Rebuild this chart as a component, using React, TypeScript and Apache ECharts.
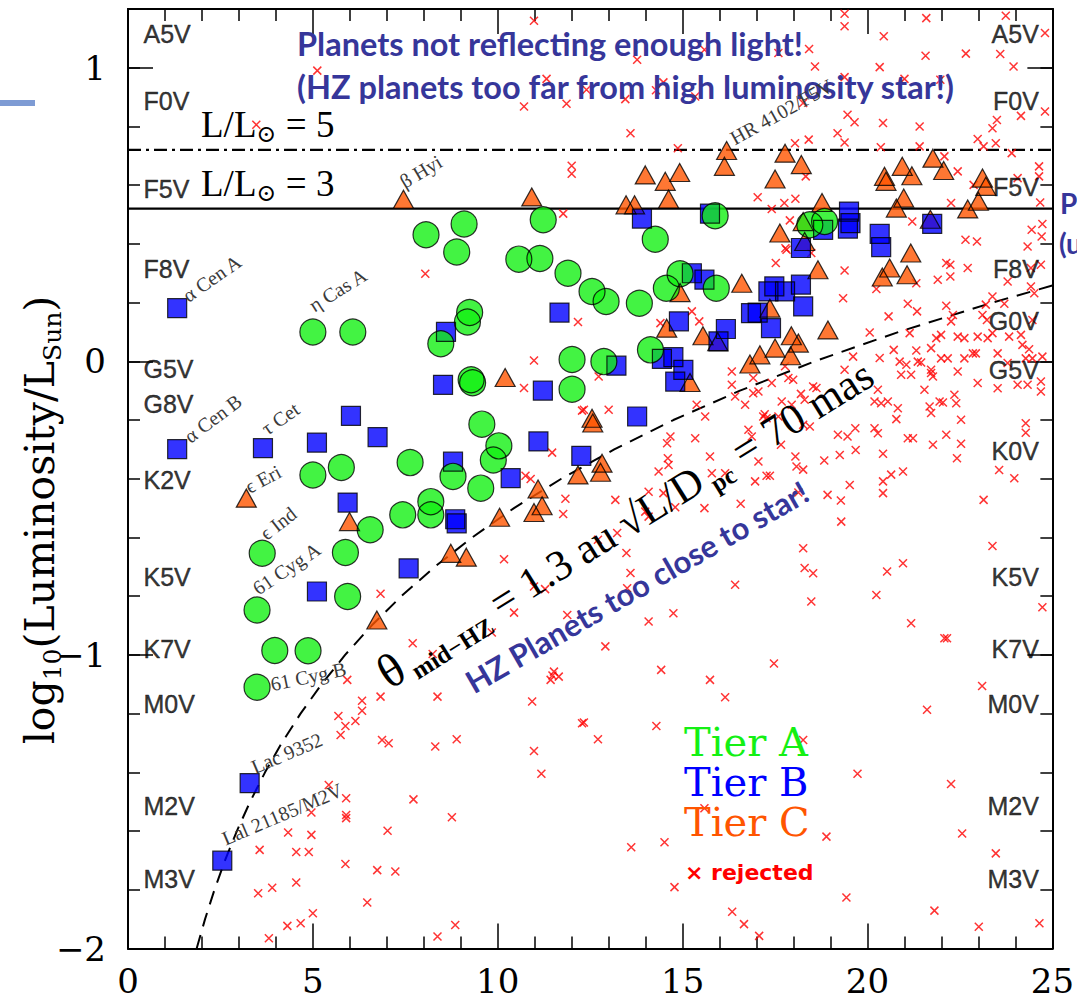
import React, { useEffect, useRef } from 'react';
import * as echarts from 'echarts';

// ---------- DATA ----------
const X_MIN = 0, X_MAX = 25, Y_MIN = -2, Y_MAX = 1.2;
const L3_LOG = 0.52; // line labelled L/Lsun = 3
const L5_LOG = 0.72; // line labelled L/Lsun = 5

const HZ_CURVE_D = [1.857, 2.084, 2.338, 2.624, 2.944, 3.303, 3.706, 4.158, 4.666, 5.235, 5.872, 6.589, 7.393, 8.295, 9.307, 10.44, 11.72, 13.15, 14.75, 16.55, 18.57, 20.84, 23.38, 25.0];
const HZ_CURVE_L = [-2.0, -1.9, -1.8, -1.7, -1.6, -1.5, -1.4, -1.3, -1.2, -1.1, -1.0, -0.9, -0.8, -0.7, -0.6, -0.5, -0.4, -0.3, -0.2, -0.1, 0.0, 0.1, 0.2, 0.258];

const TIER_A = [[8.06,0.431],[9.09,0.468],[8.89,0.372],[11.23,0.482],[10.57,0.348],[11.14,0.350],[11.90,0.300],[12.55,0.238],[12.93,0.204],[13.83,0.198],[9.24,0.166],[9.18,0.134],[8.46,0.060],[5.00,0.100],[6.08,0.100],[12.01,0.006],[12.87,-0.001],[9.28,-0.063],[9.32,-0.073],[12.01,-0.095],[15.88,0.496],[14.26,0.416],[14.93,0.298],[14.56,0.249],[15.91,0.249],[14.13,0.039],[18.44,0.465],[18.84,0.476],[9.57,-0.214],[10.03,-0.288],[9.88,-0.336],[7.63,-0.345],[8.79,-0.392],[9.54,-0.432],[8.19,-0.478],[8.19,-0.523],[7.43,-0.523],[6.55,-0.574],[5.00,-0.387],[5.77,-0.362],[5.88,-0.651],[3.63,-0.654],[5.94,-0.801],[3.49,-0.847],[3.97,-0.985],[4.87,-0.986],[3.49,-1.110]];

const TIER_B = [[1.33,0.181],[11.67,0.166],[8.60,0.100],[1.33,-0.299],[3.65,-0.296],[5.11,-0.277],[6.03,-0.186],[6.75,-0.258],[5.94,-0.481],[5.11,-0.784],[7.59,-0.705],[8.52,-0.080],[11.22,-0.100],[8.79,-0.342],[8.85,-0.538],[8.89,-0.552],[10.35,-0.398],[11.10,-0.273],[12.26,-0.322],[13.77,-0.188],[13.21,-0.015],[3.29,-1.437],[2.55,-1.701],[13.90,0.486],[15.74,0.503],[18.20,0.386],[18.80,0.448],[19.50,0.510],[19.54,0.471],[19.47,0.452],[15.25,0.300],[15.59,0.278],[14.90,0.136],[16.17,0.110],[15.97,0.068],[17.48,0.255],[17.77,0.238],[17.32,0.238],[18.20,0.261],[18.26,0.187],[16.85,0.164],[17.03,0.166],[17.39,0.113],[14.44,0.008],[14.75,0.014],[15.02,-0.029],[14.80,-0.069],[20.33,0.434],[20.37,0.389],[21.75,0.468]];

const TIER_C = [[7.45,0.552],[10.92,0.560],[16.19,0.718],[16.13,0.664],[13.99,0.635],[14.53,0.613],[14.92,0.643],[14.62,0.553],[13.47,0.533],[13.70,0.533],[17.77,0.709],[18.21,0.670],[17.50,0.621],[18.77,0.541],[17.63,0.437],[18.26,0.476],[18.30,0.408],[18.66,0.312],[16.60,0.266],[14.93,0.234],[14.57,0.113],[15.55,0.087],[15.95,0.067],[17.36,0.181],[18.93,0.107],[17.94,0.087],[18.13,0.062],[17.50,0.045],[17.09,0.022],[16.82,-0.009],[17.92,0.019],[15.20,-0.072],[10.20,-0.055],[12.55,-0.194],[12.57,-0.210],[12.82,-0.347],[12.78,-0.378],[12.17,-0.387],[11.09,-0.435],[11.20,-0.492],[10.98,-0.515],[10.05,-0.531],[8.73,-0.654],[9.15,-0.667],[3.20,-0.466],[5.99,-0.546],[6.73,-0.881],[20.46,0.630],[20.50,0.613],[20.94,0.664],[21.20,0.632],[21.77,0.692],[22.06,0.650],[20.98,0.556],[20.78,0.522],[21.70,0.484],[23.11,0.624],[23.20,0.596],[23.00,0.545],[22.71,0.519],[21.17,0.369],[20.60,0.318],[20.40,0.287],[21.07,0.295]];

const REJECTED = [
[10.98,1.16],[5.12,0.99],[3.47,0.806],[10.71,0.868],[11.32,0.962],[11.86,0.877],[12.0,0.666],[12.0,0.639],[11.77,0.503],[8.04,0.298],[12.17,0.134],[12.4,0.925],
[19.38,1.184],[19.38,1.141],[21.59,1.169],[23.74,1.177],[24.8,1.118],[20.44,1.107],[18.42,1.064],[13.77,1.027],[15.59,1.061],[21.57,1.041],[22.66,1.048],[23.59,1.047],[23.95,1.004],[18.58,1.004],[20.33,1.002],[17.59,1.05],[14.48,0.95],[14.28,0.923],[13.45,0.893],[15.34,0.902],[19.38,0.968],[21.0,0.962],[21.97,0.959],[24.8,0.851],[24.15,0.836],[23.5,0.822],[23.38,0.794],[19.46,0.84],[19.65,0.814],[20.42,0.812],[21.41,0.8],[13.59,0.777],[18.26,0.88],[18.41,0.755],[18.04,0.743],[19.19,0.777],[19.38,0.745],[22.98,0.757],[23.14,0.732],[23.47,0.743],[20.36,0.729],[21.41,0.732],[14.87,0.726],[23.9,0.709],[22.08,0.698],[22.44,0.647],[24.64,0.664],[24.64,0.63],[24.06,0.624],[18.33,0.63],[17.03,0.559],[17.75,0.539],[18.05,0.554],[17.41,0.519],[22.26,0.539],[22.87,0.601],[24.67,0.541],[17.9,0.48],[21.21,0.476],[24.44,0.448],[24.71,0.425],[24.73,0.468],[22.65,0.414],[22.96,0.408],[24.33,0.391],[17.81,0.38],[17.78,0.385],[17.52,0.335],[18.48,0.369],[22.13,0.335],[22.24,0.329],[22.71,0.318],[22.24,0.289],[24.42,0.318],[24.69,0.329],[19.38,0.309],[21.9,0.278],[23.79,0.272],[24.42,0.255],[24.51,0.232],[21.32,0.266],[20.24,0.246],[23.38,0.221],[23.7,0.196],[23.2,0.193],[21.09,0.196],[21.34,0.17],[22.13,0.189],[19.34,0.215],[20.57,0.153],[22.31,0.158],[22.26,0.136],[23.11,0.158],[23.23,0.141],[24.46,0.141],[15.25,0.17],[15.45,0.136],[14.4,0.13],
[20.06,0.098],[21.14,0.096],[21.86,0.079],[21.99,0.09],[21.72,0.045],[22.44,0.084],[22.62,0.079],[22.98,0.084],[23.38,0.096],[23.25,0.079],[23.83,0.084],[24.15,0.09],[24.19,0.056],[24.37,0.041],[20.71,0.039],[21.32,0.037],[21.72,-0.029],[19.61,0.016],[20.33,0.011],[20.87,-0.001],[21.05,-0.012],[21.36,-0.001],[21.45,-0.004],[21.99,0.01],[22.17,0.01],[22.62,0.01],[22.85,0.027],[22.93,0.027],[23.52,0.027],[23.79,-0.006],[24.28,0.01],[24.46,0.01],[24.73,0.016],[22.44,-0.035],[21.72,-0.04],[21.77,-0.052],[20.91,-0.046],[21.18,-0.046],[19.38,-0.029],[22.98,-0.074],[23.52,-0.092],[24.06,-0.08],[24.33,-0.08],[24.69,-0.069],[24.69,-0.103],[21.54,-0.097],[20.28,-0.097],[20.19,-0.137],[20.37,-0.143],[20.55,-0.137],[20.82,-0.16],[20.78,-0.197],[21.68,-0.154],[21.95,-0.137],[22.04,-0.14],[21.72,-0.176],[22.35,-0.114],[22.4,-0.143],[22.53,-0.199],[24.28,-0.211],[24.28,-0.243],[20.19,-0.228],[20.28,-0.245],[21.09,-0.262],[21.23,-0.262],[22.13,-0.25],[21.77,-0.284],[22.53,-0.281],[22.42,-0.33],[19.2,-0.25],[19.46,-0.256],[19.67,-0.228],[19.68,-0.302],[19.25,-0.319],[20.42,-0.315],[18.83,-0.338],[23.56,-0.37],[23.97,-0.398],[20.96,-0.375],[20.64,-0.386],[20.42,-0.409],[20.42,-0.449],[19.52,-0.421],[19.28,-0.474],[18.92,-0.455],[19.29,-0.546],[23.14,-0.472],[23.38,-0.629],[20.96,-0.688],[20.53,-0.716],[20.24,-0.796],[21.18,-0.892],[22.08,-0.943],[22.15,-0.943],[24.73,-0.838],[18.26,-0.637],[18.3,-0.704],[18.53,-0.722],[18.48,-0.818],[16.42,-0.761],[14.75,-0.858],[14.08,-0.886],[12.91,-0.971],[13.48,-0.653],[13.59,-0.721],[13.5,-0.773],[13.18,-0.472],[13.23,-0.585],[14.08,-0.444],[14.48,-0.449],[13.99,-0.512],[14.08,-0.529],[14.8,-0.497],[14.35,-0.375],[14.6,-0.33],[14.62,-0.353],[14.58,-0.279],[14.67,-0.256],[15.34,-0.262],[15.74,-0.324],[16.15,-0.381],[15.79,-0.381],[15.59,-0.5],[16.57,-0.485],[16.96,-0.409],[17.27,-0.39],[17.36,-0.39],[17.05,-0.341],[16.78,-0.233],[16.87,-0.256],[17.66,-0.284],[18.05,-0.324],[18.08,-0.358],[18.26,-0.369],[18.13,-0.447],[17.18,-0.188],[17.27,-0.194],[17.22,-0.18],[17.59,-0.188],[18.26,-0.216],[18.44,-0.222],[17.68,-0.137],[17.95,-0.148],[18.3,-0.131],[18.53,-0.086],[18.62,-0.091],[18.2,-0.111],[16.69,-0.148],[17.05,-0.103],[16.91,-0.109],[17.41,-0.074],[17.77,-0.017],[17.86,-0.057],[17.99,-0.063],[16.33,-0.035],[16.33,-0.08],[16.42,-0.12],[16.91,-0.057],[15.38,-0.148],[15.61,-0.188],[12.73,-0.052],[13.0,-0.165],[12.33,-0.165],
[10.98,0.003],[10.71,-0.091],[11.47,-0.311],[10.75,-0.39],[10.89,-0.401],[11.83,-0.468],[11.77,-0.52],[12.28,-0.168],[10.17,-0.674],[10.98,-0.767],[11.28,-0.776],[10.44,-0.856],[11.88,-0.864],[9.84,-0.924],[7.7,-0.96],[6.83,-0.792],[12.71,-0.608],
[8.24,-0.997],[5.93,-1.085],[6.33,-1.156],[6.33,-1.19],[6.83,-1.142],[8.37,-1.142],[5.69,-1.208],[5.88,-1.242],[6.15,-1.225],[5.75,-1.273],[6.87,-1.29],[7.05,-1.301],[8.31,-1.312],[8.89,-1.287],[10.93,-1.159],[10.98,-1.327],[11.18,-1.405],[11.43,-1.085],[11.52,-1.057],[11.65,-1.074],[11.48,-1.07],[12.28,-1.233],[12.33,-1.23],[12.71,-1.287],[5.43,-1.443],[7.72,-1.492],[8.76,-1.553],[5.9,-1.488],[5.9,-1.545],[5.9,-1.556],[4.96,-1.537],[4.96,-1.613],[4.89,-1.671],[4.33,-1.605],[4.55,-1.671],[3.56,-1.664],[7.02,-1.599],[5.88,-1.712],[6.74,-1.733],[7.23,-1.738],[4.55,-1.775],[3.9,-1.793],[3.52,-1.812],[6.47,-1.843],[5.0,-1.88],[4.67,-1.914],[4.31,-1.923],[3.81,-1.965],[8.37,-1.959],[8.85,-1.92],
[14.42,-1.051],[15.74,-1.085],[16.15,-1.144],[17.47,-1.029],[14.29,-1.242],[18.26,-1.29],[19.73,-1.405],[22.26,-1.44],[21.61,-1.187],[23.1,-1.106],[15.59,-1.522],[13.61,-1.655],[14.51,-1.638],[18.89,-1.619],[22.56,-1.608],[23.47,-1.676],[14.78,-1.791],[19.43,-1.826],[21.81,-1.871],[16.34,-1.875],[16.66,-1.917],[17.07,-1.957],[23.01,-1.926],[24.65,-1.914]
];

const LEFT_SPEC = ['A5V','F0V','F5V','F8V','G5V','G8V','K2V','K5V','K7V','M0V','M2V','M3V'];
const LEFT_SPEC_LUM = [1.115,0.887,0.587,0.315,-0.026,-0.145,-0.403,-0.733,-0.979,-1.166,-1.513,-1.762];
const RIGHT_SPEC = ['A5V','F0V','F5V','F8V','G0V','G5V','K0V','K5V','K7V','M0V','M2V','M3V'];
const RIGHT_SPEC_LUM = [1.115,0.887,0.594,0.315,0.138,-0.029,-0.305,-0.733,-0.979,-1.166,-1.513,-1.762];

const STAR_NAMES = ['α Cen A','η Cas A','β Hyi','HR 4102/F5V','α Cen B','τ Cet','ϵ Eri','ϵ Ind','61 Cyg A','61 Cyg B','Lac 9352','Lal 21185/M2V'];
const STAR_NAME_D = [1.33, 5.00, 7.45, 16.19, 1.33, 3.65, 3.20, 3.63, 3.49, 3.49, 3.29, 2.55];
const STAR_NAME_L = [0.181, 0.100, 0.552, 0.718, -0.299, -0.296, -0.466, -0.654, -0.847, -1.110, -1.437, -1.701];

const LEGEND_LABELS = ['Tier A', 'Tier B', 'Tier C'];

// ---------- STYLE ----------
const GREEN = '#14f014';
const BLUE = '#0000ff';
const ORANGE = '#ff5500';
const RED = '#ff0000';
const NAVY = '#36369a';
const SERIF = 'DejaVu Serif';
const TIMES = 'Liberation Serif';
const SANS = 'Liberation Sans';
// baseline-left offsets of each star name from its marker (px) and rotation (deg)
const NAME_LAYOUT = [[11,-6,35],[1,-20,32],[1,-11,31],[8,-6,29],[13,-6,37],[4,-13,35],[3,-5,28],[4,-13,38],[1,-15,34],[15,3,12],[5,-10,23],[3,-16,23]];

const xAxisBase = (pos: string, showLabel: boolean) => ({
  type: 'value', min: X_MIN, max: X_MAX, interval: 5, position: pos,
  axisLine: { show: true, onZero: false, lineStyle: { color: '#000', width: 2 } },
  axisTick: { show: true, inside: true, length: 25, lineStyle: { color: '#000', width: 1.5 } },
  minorTick: { show: true, splitNumber: 5, length: 12, lineStyle: { color: '#000', width: 1.5 } },
  splitLine: { show: false },
  axisLabel: { show: showLabel, fontFamily: SERIF, fontSize: 34, color: '#000', margin: 15 },
});

const yAxisBase = (pos: string, interval: number, len: number, showLabel: boolean) => ({
  type: 'value', min: Y_MIN, max: Y_MAX, interval, position: pos,
  axisLine: { show: true, onZero: false, lineStyle: { color: '#000', width: 2 } },
  axisTick: { show: true, inside: true, length: len, lineStyle: { color: '#000', width: 1.5 } },
  splitLine: { show: false },
  axisLabel: {
    show: showLabel, fontFamily: SERIF, fontSize: 34, color: '#000', margin: 22,
    formatter: (v: number) => (Math.abs(v - Math.round(v)) < 1e-6 ? (v < 0 ? '\u2212' + Math.abs(Math.round(v)) : String(Math.round(v))) : ''),
  },
});

const markerSeries = (data: number[][], symbol: string, size: any, fill: boolean, color: string, z: number) => ({
  type: 'scatter', data, symbol, symbolSize: size, silent: true, z,
  itemStyle: fill ? { color, borderWidth: 0 } : { color: 'rgba(0,0,0,0)', borderColor: '#000', borderWidth: 1.2 },
});

const specLabel = (position: string, distance: number) => ({
  show: true, position, distance, formatter: '{b}', fontFamily: SANS, fontSize: 25, color: '#000',
  textBorderColor: '#000', textBorderWidth: 0.4,
});

function buildOption() {
  return {
    animation: false,
    grid: { left: 128, right: 22, top: 9, bottom: 56.5, containLabel: false },
    xAxis: [xAxisBase('bottom', true), xAxisBase('top', false)],
    yAxis: [yAxisBase('left', 1, 25, true), yAxisBase('left', 0.2, 12, false), yAxisBase('right', 1, 25, false), yAxisBase('right', 0.2, 12, false)],
    series: [
      { type: 'line', data: HZ_CURVE_D.map((d, i) => [d, HZ_CURVE_L[i]]), symbol: 'none', silent: true, z: 2,
        lineStyle: { color: '#000', width: 2, type: [14, 9] } },
      { type: 'line', data: [[X_MIN, L3_LOG], [X_MAX, L3_LOG]], symbol: 'none', silent: true, z: 2, lineStyle: { color: '#000', width: 2.2 } },
      { type: 'line', data: [[X_MIN, L5_LOG], [X_MAX, L5_LOG]], symbol: 'none', silent: true, z: 2, lineStyle: { color: '#000', width: 2.2, type: [13, 5, 3, 5] } },
      { type: 'scatter', data: REJECTED, symbol: 'path://M0,0L10,10M10,0L0,10', symbolSize: 8, silent: true, z: 3,
        itemStyle: { color: 'rgba(0,0,0,0)', borderColor: RED, borderWidth: 1.5 } },
      markerSeries(TIER_C, 'triangle', [20, 18], true, ORANGE, 4),
      markerSeries(TIER_B, 'rect', 19, true, BLUE, 4),
      markerSeries(TIER_A, 'circle', 26, true, GREEN, 4),
      markerSeries(TIER_C, 'triangle', [20, 18], false, ORANGE, 5),
      markerSeries(TIER_B, 'rect', 19, false, BLUE, 5),
      markerSeries(TIER_A, 'circle', 26, false, GREEN, 5),
      { type: 'scatter', data: LEFT_SPEC.map((s, i) => ({ name: s, value: [X_MIN, LEFT_SPEC_LUM[i]] })), symbolSize: 1, silent: true, clip: false, z: 6,
        itemStyle: { color: 'rgba(0,0,0,0)' }, label: specLabel('right', 15) },
      { type: 'scatter', data: RIGHT_SPEC.map((s, i) => ({ name: s, value: [X_MAX, RIGHT_SPEC_LUM[i]] })), symbolSize: 1, silent: true, clip: false, z: 6,
        itemStyle: { color: 'rgba(0,0,0,0)' }, label: specLabel('left', 13) },
    ],
  };
}

function rotText(text: string, x: number, y: number, deg: number, style: any, z = 60) {
  return { type: 'text', x, y, rotation: (deg * Math.PI) / 180, z, silent: true, style: { text, align: 'left', verticalAlign: 'middle', ...style } };
}

function buildGraphics(chart: any) {
  const els: any[] = [];
  // slide remnants
  els.push({ type: 'rect', shape: { x: 0, y: 100, width: 35, height: 6 }, style: { fill: '#7e9bd4' }, z: 60, silent: true });
  els.push(rotText('P', 1060, 203, 0, { fill: NAVY, fontFamily: 'Lato', fontWeight: 'bold', fontSize: 28 }));
  els.push(rotText('(u', 1059, 243, 0, { fill: NAVY, fontFamily: 'Lato', fontWeight: 'bold', fontSize: 28 }));
  // y axis title
  els.push({
    type: 'text', x: 40, y: 520, rotation: Math.PI / 2, z: 60, silent: true,
    style: {
      text: '{a|log}{s|10}{a|(Luminosity/L}{s|Sun}{a|)}', align: 'center', verticalAlign: 'middle',
      rich: {
        a: { fontFamily: SERIF, fontSize: 41, lineHeight: 50, fill: '#000', verticalAlign: 'middle' },
        s: { fontFamily: SERIF, fontSize: 25, lineHeight: 25, fill: '#000', verticalAlign: 'bottom' },
      },
    },
  });
  // blue annotations
  els.push(rotText('Planets not reflecting enough light!', 297, 43, 0, { fill: NAVY, fontFamily: 'Lato', fontWeight: 'bold', fontSize: 32.5 }));
  els.push(rotText('(HZ planets too far from high luminosity star!)', 297, 86, 0, { fill: NAVY, fontFamily: 'Lato', fontWeight: 'bold', fontSize: 32.5 }));
  els.push(rotText('HZ Planets too close to star!', 468, 684, 30, { fill: NAVY, fontFamily: 'Lato', fontWeight: 'bold', fontSize: 31 }));
  // L/Lsun labels
  const lrich = {
    a: { fontFamily: TIMES, fontSize: 37, lineHeight: 44, fill: '#000', verticalAlign: 'middle' },
    s: { fontFamily: SERIF, fontSize: 24, lineHeight: 24, fill: '#000', verticalAlign: 'bottom' },
  };
  els.push(rotText('{a|L/L}{s|⊙}{a| = 5}', 201, 124, 0, { rich: lrich }));
  els.push(rotText('{a|L/L}{s|⊙}{a| = 3}', 201, 183, 0, { rich: lrich }));
  // theta annotation
  els.push(rotText('{t|θ}{s| mid−HZ}{n| = 1.3 au √}{o|L/D}{s| pc}{n| = 70 mas}', 381, 676, 32, {
    rich: {
      t: { fontFamily: TIMES, fontSize: 48, lineHeight: 54, fill: '#000', verticalAlign: 'middle' },
      n: { fontFamily: TIMES, fontSize: 43, lineHeight: 54, fill: '#000', verticalAlign: 'middle' },
      o: { fontFamily: TIMES, fontSize: 43, lineHeight: 54, fill: '#000', verticalAlign: 'middle' },
      s: { fontFamily: TIMES, fontSize: 25, fontWeight: 'bold', lineHeight: 25, fill: '#000', verticalAlign: 'bottom' },
    },
  }));
  // legend (one text block, three coloured lines)
  els.push({
    type: 'text', x: 684, y: 722, z: 60, silent: true,
    style: {
      text: `{a|${LEGEND_LABELS[0]}}\n{b|${LEGEND_LABELS[1]}}\n{c|${LEGEND_LABELS[2]}}`,
      align: 'left', verticalAlign: 'top',
      rich: {
        a: { fill: GREEN, fontFamily: SERIF, fontSize: 40, lineHeight: 40 },
        b: { fill: BLUE, fontFamily: SERIF, fontSize: 40, lineHeight: 40 },
        c: { fill: ORANGE, fontFamily: SERIF, fontSize: 40, lineHeight: 40 },
      },
    },
  });
  els.push(rotText('× rejected', 685, 872, 0, { fill: RED, fontFamily: 'DejaVu Sans', fontWeight: 'bold', fontSize: 22 }));
  // star names
  STAR_NAMES.forEach((n, i) => {
    const p = chart.convertToPixel({ seriesIndex: 4 }, [STAR_NAME_D[i], STAR_NAME_L[i]]);
    const [dx, dy, deg] = NAME_LAYOUT[i];
    const r = (deg * Math.PI) / 180;
    const fs = 20;
    const up = 0.3 * fs;
    const x = p[0] + dx - up * Math.sin(r);
    const y = p[1] + dy - up * Math.cos(r);
    els.push(rotText(n, x, y, deg, { fill: '#3a3a3a', fontFamily: TIMES, fontSize: fs }, 61));
  });
  return els;
}

export default function App() {
  const ref = useRef<HTMLDivElement>(null);
  useEffect(() => {
    document.body.style.margin = '0';
    const chart = echarts.init(ref.current as HTMLDivElement, null, { renderer: 'svg' });
    chart.setOption(buildOption() as any);
    chart.setOption({ graphic: { elements: buildGraphics(chart) } } as any);
    return () => chart.dispose();
  }, []);
  return <div ref={ref} style={{ width: 1077, height: 1005, background: '#fff' }} />;
}
